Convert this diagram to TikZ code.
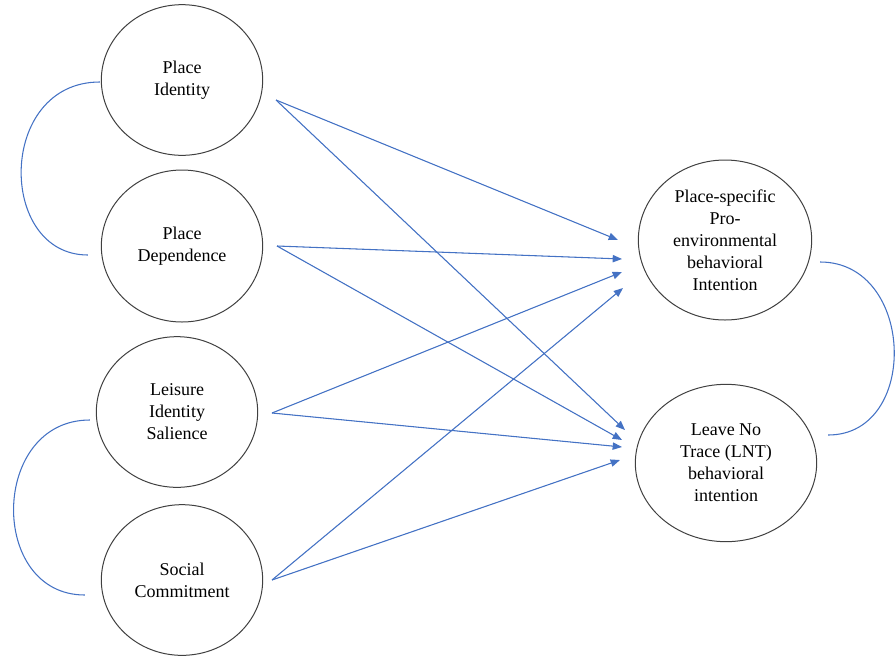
\documentclass[tikz,border=0pt]{standalone}
\usepackage{fontspec}
\setmainfont{Liberation Serif}
\usepackage{xcolor}
\usetikzlibrary{shapes.geometric,arrows.meta,calc}
\definecolor{linkblue}{RGB}{68,114,196}

\begin{document}
\begin{tikzpicture}[x=0.75pt,y=-0.75pt,>={Triangle[length=7pt,width=5.5pt]},line width=0.75pt,
    main node/.style={ellipse,draw=black!75,inner sep=0pt,align=center,font=\fontsize{13.5}{16.5}\selectfont},
    link/.style={->,draw=linkblue,fill=linkblue,line width=0.8pt},
    bond/.style={draw=linkblue,line width=0.8pt}]

            \useasboundingbox (0,0) rectangle (895,657);

            \node[main node, minimum width=121pt, minimum height=113pt] (1) at (182,80) {Place\\Identity};
            \node[main node, minimum width=121pt, minimum height=114pt] (2) at (182,246) {Place\\Dependence};
            \node[main node, minimum width=121pt, minimum height=113pt] (3) at (177,412) {Leisure\\Identity\\Salience};
            \node[main node, minimum width=121pt, minimum height=113pt] (4) at (182,580) {Social\\Commitment};
            \node[main node, minimum width=130pt, minimum height=120pt] (5) at (725,240) {Place-specific\\Pro-\\environmental\\behavioral\\Intention};
            \node[main node, minimum width=136pt, minimum height=118pt] (6) at (726,463) {Leave No\\Trace (LNT)\\behavioral\\intention};

            % arrow ends
            \coordinate (1o) at (276,100);
            \coordinate (2o) at (277,246);
            \coordinate (3o) at (272,413);
            \coordinate (4o) at (272,580);
            \coordinate (5a) at (618,240);
            \coordinate (5b) at (622,259);
            \coordinate (5c) at (622,272);
            \coordinate (5d) at (623,288);
            \coordinate (6a) at (625,430);
            \coordinate (6b) at (622,440);
            \coordinate (6c) at (622,447);
            \coordinate (6d) at (620,460);

            \draw[link] (1o) -- (5a);
            \draw[link] (1o) -- (6a);
            \draw[link] (2o) -- (5b);
            \draw[link] (2o) -- (6b);
            \draw[link] (3o) -- (5c);
            \draw[link] (3o) -- (6c);
            \draw[link] (4o) -- (5d);
            \draw[link] (4o) -- (6d);

            % correlations
            \draw[bond] ($(1.west)+(-1,2)$) .. controls (-3,82) and (-3,255) .. ($(2.west)+(-13,9)$);
            \draw[bond] ($(3.west)+(-6,8)$) .. controls (-10,420) and (-12,595) .. ($(4.west)+(-16,15)$);
            \draw[bond] ($(5.east)+(8,22)$) .. controls (915,262) and (920,435) .. ($(6.east)+(11,-28)$);

            ;
        \end{tikzpicture}
\end{document}
